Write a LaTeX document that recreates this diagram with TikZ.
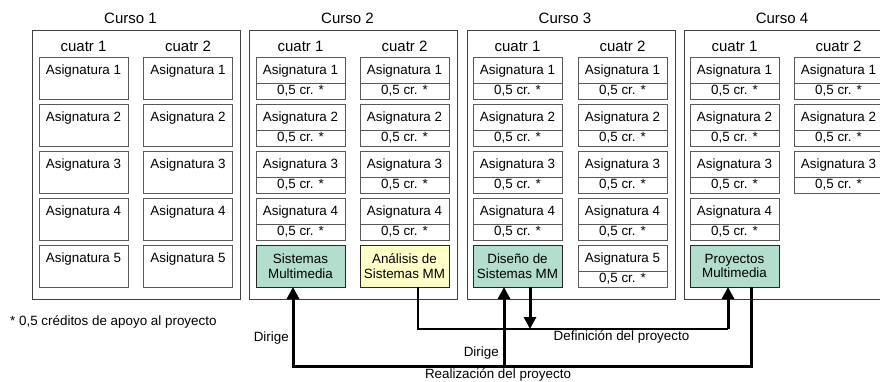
\documentclass[tikz,border=0pt]{standalone}
\usepackage{fontspec}
\setmainfont{Liberation Sans}
\usepackage{xcolor}
\usepackage{tikz}
\usetikzlibrary{arrows.meta, positioning, calc}
\definecolor{verdemm}{RGB}{179, 222, 205}
\definecolor{amarillomm}{RGB}{255, 255, 200}
\tikzstyle{curso} = [rectangle, draw=black!75, line width=1pt, minimum width=208pt, minimum height=269pt, inner sep=0pt, outer sep=0pt]
\tikzstyle{titulo} = [font=\fontsize{15}{17}\selectfont, inner sep=0pt]
\tikzstyle{asig} = [rectangle, draw=black!65, line width=1pt, minimum width=89pt, inner sep=0pt, outer sep=0pt, text height=17.5pt, text depth=8.5pt, font=\fontsize{13.4}{15}\selectfont]
\tikzstyle{asiglarga} = [asig, text depth=24.5pt]
\tikzstyle{cred} = [asig, text height=11pt, text depth=5pt]
\tikzstyle{materia} = [rectangle, draw=black!85, line width=1pt, minimum width=89pt, minimum height=42pt, inner sep=0pt, outer sep=0pt, align=center, font=\fontsize{13.4}{14.5}\selectfont]
\tikzstyle{flecha} = [line width=3pt, -{Triangle[length=12pt,width=12pt]}]
\tikzstyle{linea} = [line width=2pt]
\tikzstyle{etiq} = [font=\fontsize{13.4}{15}\selectfont, inner sep=0pt]

\begin{document}
\begin{tikzpicture}[x=1pt, y=-1pt, node distance=5pt]
\useasboundingbox (0,0) rectangle (880,381);
\clip (0,0) rectangle (880,381);

% Cursos
\node[curso] (curso1) at (136.5,164.5) {};
\node[curso] (curso2) at (353.5,164.5) {};
\node[curso] (curso3) at (571,164.5) {};
\node[curso] (curso4) at (788,164.5) {};
\node[titulo, above=6.5pt of curso1, xshift=-6pt] (tit1) {Curso 1};
\node[titulo, above=6.5pt of curso2, xshift=-6pt] (tit2) {Curso 2};
\node[titulo, above=6.5pt of curso3, xshift=-6pt] (tit3) {Curso 3};
\node[titulo, above=6.5pt of curso4, xshift=-6pt] (tit4) {Curso 4};

% Curso 1
\node[asiglarga] (c1a1) at (83.5,78) {Asignatura 1};
\node[asiglarga, below=of c1a1] (c1a2) {Asignatura 2};
\node[asiglarga, below=of c1a2] (c1a3) {Asignatura 3};
\node[asiglarga, below=of c1a3] (c1a4) {Asignatura 4};
\node[asiglarga, below=of c1a4] (c1a5) {Asignatura 5};
\node[asiglarga] (c1b1) at (188,78) {Asignatura 1};
\node[asiglarga, below=of c1b1] (c1b2) {Asignatura 2};
\node[asiglarga, below=of c1b2] (c1b3) {Asignatura 3};
\node[asiglarga, below=of c1b3] (c1b4) {Asignatura 4};
\node[asiglarga, below=of c1b4] (c1b5) {Asignatura 5};
\node[titulo, above=5pt of c1a1] (c1q1) {cuatr 1};
\node[titulo, above=5pt of c1b1] (c1q2) {cuatr 2};

% Curso 2
\node[asig] (c2a1) at (300.5,70) {Asignatura 1};
\node[cred, below=0pt of c2a1] (c2a1_cr) {0,5 cr. *};
\node[asig, below=of c2a1_cr] (c2a2) {Asignatura 2};
\node[cred, below=0pt of c2a2] (c2a2_cr) {0,5 cr. *};
\node[asig, below=of c2a2_cr] (c2a3) {Asignatura 3};
\node[cred, below=0pt of c2a3] (c2a3_cr) {0,5 cr. *};
\node[asig, below=of c2a3_cr] (c2a4) {Asignatura 4};
\node[cred, below=0pt of c2a4] (c2a4_cr) {0,5 cr. *};
\node[materia, fill=verdemm, below=of c2a4_cr] (c2a5) {Sistemas\\Multimedia};
\node[asig] (c2b1) at (404.5,70) {Asignatura 1};
\node[cred, below=0pt of c2b1] (c2b1_cr) {0,5 cr. *};
\node[asig, below=of c2b1_cr] (c2b2) {Asignatura 2};
\node[cred, below=0pt of c2b2] (c2b2_cr) {0,5 cr. *};
\node[asig, below=of c2b2_cr] (c2b3) {Asignatura 3};
\node[cred, below=0pt of c2b3] (c2b3_cr) {0,5 cr. *};
\node[asig, below=of c2b3_cr] (c2b4) {Asignatura 4};
\node[cred, below=0pt of c2b4] (c2b4_cr) {0,5 cr. *};
\node[materia, fill=amarillomm, below=of c2b4_cr] (c2b5) {Análisis de\\Sistemas MM};
\node[titulo, above=5pt of c2a1] (c2q1) {cuatr 1};
\node[titulo, above=5pt of c2b1] (c2q2) {cuatr 2};

% Curso 3
\node[asig] (c3a1) at (517.5,70) {Asignatura 1};
\node[cred, below=0pt of c3a1] (c3a1_cr) {0,5 cr. *};
\node[asig, below=of c3a1_cr] (c3a2) {Asignatura 2};
\node[cred, below=0pt of c3a2] (c3a2_cr) {0,5 cr. *};
\node[asig, below=of c3a2_cr] (c3a3) {Asignatura 3};
\node[cred, below=0pt of c3a3] (c3a3_cr) {0,5 cr. *};
\node[asig, below=of c3a3_cr] (c3a4) {Asignatura 4};
\node[cred, below=0pt of c3a4] (c3a4_cr) {0,5 cr. *};
\node[materia, fill=verdemm, below=of c3a4_cr] (c3a5) {Diseño de\\Sistemas MM};
\node[asig] (c3b1) at (622.5,70) {Asignatura 1};
\node[cred, below=0pt of c3b1] (c3b1_cr) {0,5 cr. *};
\node[asig, below=of c3b1_cr] (c3b2) {Asignatura 2};
\node[cred, below=0pt of c3b2] (c3b2_cr) {0,5 cr. *};
\node[asig, below=of c3b2_cr] (c3b3) {Asignatura 3};
\node[cred, below=0pt of c3b3] (c3b3_cr) {0,5 cr. *};
\node[asig, below=of c3b3_cr] (c3b4) {Asignatura 4};
\node[cred, below=0pt of c3b4] (c3b4_cr) {0,5 cr. *};
\node[asig, below=of c3b4_cr] (c3b5) {Asignatura 5};
\node[cred, below=0pt of c3b5] (c3b5_cr) {0,5 cr. *};
\node[titulo, above=5pt of c3a1] (c3q1) {cuatr 1};
\node[titulo, above=5pt of c3b1] (c3q2) {cuatr 2};

% Curso 4
\node[asig] (c4a1) at (734.5,70) {Asignatura 1};
\node[cred, below=0pt of c4a1] (c4a1_cr) {0,5 cr. *};
\node[asig, below=of c4a1_cr] (c4a2) {Asignatura 2};
\node[cred, below=0pt of c4a2] (c4a2_cr) {0,5 cr. *};
\node[asig, below=of c4a2_cr] (c4a3) {Asignatura 3};
\node[cred, below=0pt of c4a3] (c4a3_cr) {0,5 cr. *};
\node[asig, below=of c4a3_cr] (c4a4) {Asignatura 4};
\node[cred, below=0pt of c4a4] (c4a4_cr) {0,5 cr. *};
\node[materia, fill=verdemm, below=of c4a4_cr] (c4a5) {Proyectos\\Multimedia};
\node[asig] (c4b1) at (838.5,70) {Asignatura 1};
\node[cred, below=0pt of c4b1] (c4b1_cr) {0,5 cr. *};
\node[asig, below=of c4b1_cr] (c4b2) {Asignatura 2};
\node[cred, below=0pt of c4b2] (c4b2_cr) {0,5 cr. *};
\node[asig, below=of c4b2_cr] (c4b3) {Asignatura 3};
\node[cred, below=0pt of c4b3] (c4b3_cr) {0,5 cr. *};
\node[titulo, above=5pt of c4a1] (c4q1) {cuatr 1};
\node[titulo, above=5pt of c4b1] (c4q2) {cuatr 2};

\node[etiq, anchor=west] (nota) at (10,322) {* 0,5 créditos de apoyo al proyecto};

% Definicion del proyecto
\coordinate (def_der) at ($(c4a5.south)+(-6.5,42)$);
\draw[linea] ([xshift=13.5pt]c2b5.south) |- (def_der);
\draw[flecha] (def_der) -- ([xshift=-6.5pt]c4a5.south);
\draw[flecha] ([xshift=12.5pt]c3a5.south) -- ++(0,42);
\node[etiq] (def_txt) at ($(def_der)+(-106.5,8)$) {Definición del proyecto};

% Realizacion del proyecto
\coordinate (real_izq) at ($(c2a5.south)+(-7.5,79)$);
\coordinate (real_med) at ($(c3a5.south)+(-13.5,79)$);
\draw[flecha] ([xshift=16.5pt]c4a5.south) |- (real_izq) -- ([xshift=-7.5pt]c2a5.south);
\draw[flecha] (real_med) -- ([xshift=-13.5pt]c3a5.south);
\node[etiq, anchor=east] (dir1) at ($(real_izq)+(-4,-28)$) {Dirige};
\node[etiq, anchor=east] (dir2) at ($(real_med)+(-5,-13)$) {Dirige};
\node[etiq] (real_txt) at ($(real_med)+(-6,8.5)$) {Realización del proyecto};

\end{tikzpicture}
\end{document}
